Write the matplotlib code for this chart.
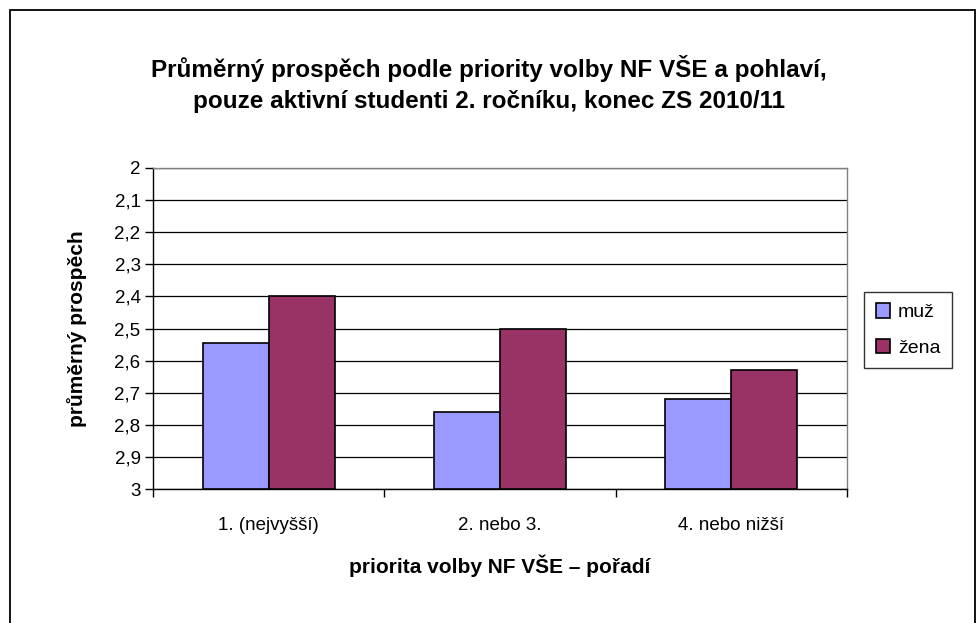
import numpy as np
import matplotlib.pyplot as plt
from matplotlib.patches import Rectangle

# Data
categories = ['1. (nejvyšší)', '2. nebo 3.', '4. nebo nižší']
muz = [2.545, 2.76, 2.72]
zena = [2.40, 2.50, 2.63]
series_names = ['muž', 'žena']
yticks = [2.0, 2.1, 2.2, 2.3, 2.4, 2.5, 2.6, 2.7, 2.8, 2.9, 3.0]

# Style
FONT = 'Liberation Sans'
MUZ_COLOR = '#9999FF'
ZENA_COLOR = '#993366'
BAR_W = 1 / 3.5  # Excel gap width 150 %

plt.rcParams['font.family'] = [FONT, 'DejaVu Sans']

fig = plt.figure(figsize=(9.78, 6.23), dpi=100)

# outer chart border (bottom edge falls outside the picture)
fig.patches.append(Rectangle((10 / 978, -0.05), 965 / 978, 1 - 10 / 623 + 0.05,
                             transform=fig.transFigure, fill=False,
                             edgecolor='black', linewidth=1.3))

ax = fig.add_axes([153 / 978, 1 - 489 / 623, (847 - 153) / 978, (489 - 168) / 623])

x = np.arange(len(categories))
ax.bar(x - BAR_W / 2, np.array(muz) - 3, bottom=3, width=BAR_W,
       color=MUZ_COLOR, edgecolor='black', linewidth=1.2, label=series_names[0], zorder=3)
ax.bar(x + BAR_W / 2, np.array(zena) - 3, bottom=3, width=BAR_W,
       color=ZENA_COLOR, edgecolor='black', linewidth=1.2, label=series_names[1], zorder=3)

ax.set_xlim(-0.5, len(categories) - 0.5)
ax.set_ylim(3, 2)  # inverted: better grade on top

ax.set_yticks(yticks)
ax.set_yticklabels([('%g' % t).replace('.', ',') for t in yticks], fontsize=13.5)
ax.yaxis.grid(True, color='black', linewidth=0.9, zorder=0)

# category labels in the middle, ticks at the boundaries
ax.set_xticks(x)
ax.set_xticklabels(categories, fontsize=13.5)
ax.tick_params(axis='x', length=0, pad=20)
ax.set_xticks(np.arange(-0.5, len(categories)), minor=True)
ax.tick_params(axis='x', which='minor', length=6, width=1, direction='out')
ax.tick_params(axis='y', length=6, width=1, direction='out', pad=3)

for s in ['left', 'bottom']:
    ax.spines[s].set_color('black')
    ax.spines[s].set_linewidth(1.0)
for s in ['right', 'top']:
    ax.spines[s].set_color('#808080')
    ax.spines[s].set_linewidth(1.0)

ax.set_ylabel('průměrný prospěch', fontsize=15, fontweight='bold', labelpad=20)
ax.set_xlabel('priorita volby NF VŠE – pořadí', fontsize=15, fontweight='bold', labelpad=15)

fig.text(0.5, 1 - 84 / 623,
         'Průměrný prospěch podle priority volby NF VŠE a pohlaví,\n'
         'pouze aktivní studenti 2. ročníku, konec ZS 2010/11',
         ha='center', va='center', fontsize=17.5, fontweight='bold', linespacing=1.4)

fig.legend(loc='center left', bbox_to_anchor=(864 / 978, 1 - 330 / 623),
           fontsize=14, frameon=True, fancybox=False, edgecolor='black',
           handlelength=0.75, handleheight=0.75, handletextpad=0.4,
           labelspacing=0.9, borderpad=0.6, borderaxespad=0)

fig.savefig('out.png', dpi=100)
